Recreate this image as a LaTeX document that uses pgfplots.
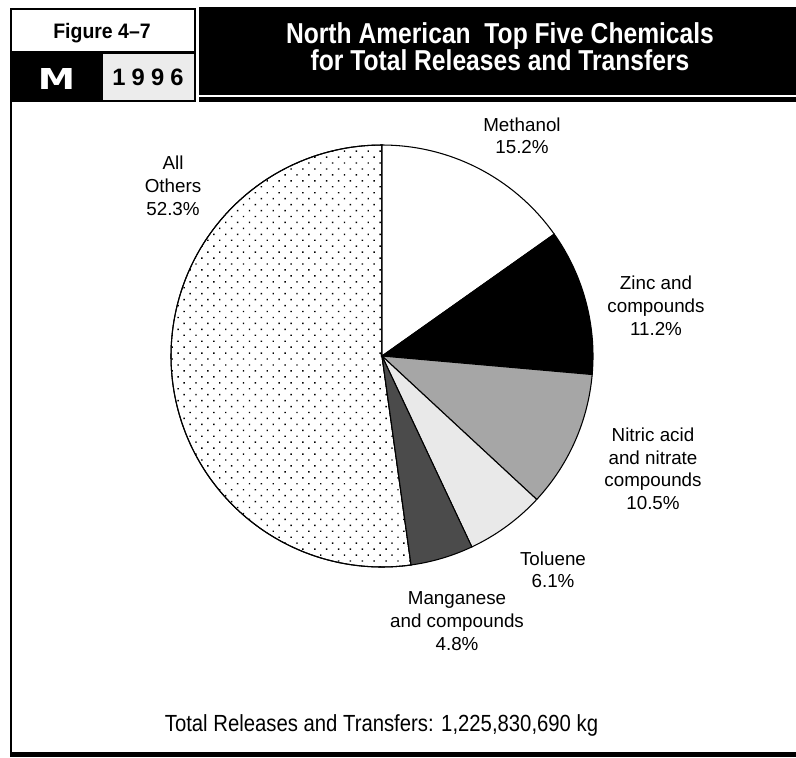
\documentclass[border=0pt]{standalone}
\usepackage{pgfplots}
\pgfplotsset{compat=1.18}
\usepackage{fontspec}
\setmainfont{Liberation Sans}
\newfontfamily\titlefont{Liberation Sans}[FakeStretch=0.855]
\newfontfamily\figfont{Liberation Sans}[FakeStretch=0.93]
\newfontfamily\totalfont{Liberation Sans}[FakeStretch=0.87]
\newfontfamily\widefont{DejaVu Sans}
\usetikzlibrary{patterns.meta}
\definecolor{nitric}{HTML}{A6A6A6}
\definecolor{toluene}{HTML}{E9E9E9}
\definecolor{mangan}{HTML}{4B4B4B}
\definecolor{yearbg}{HTML}{ECECEC}

% shares in percent, clockwise from 12 o'clock
\def\pMethanol{15.2}
\def\pZinc{11.2}
\def\pNitric{10.5}
\def\pToluene{6.1}
\def\pManganese{4.8}
\def\pOthers{52.3}

\pgfmathsetmacro\aA{90}
\pgfmathsetmacro\aB{\aA-3.6*\pMethanol}
\pgfmathsetmacro\aC{\aB-3.6*\pZinc}
\pgfmathsetmacro\aD{\aC-3.6*\pNitric}
\pgfmathsetmacro\aE{\aD-3.6*\pToluene}
\pgfmathsetmacro\aF{\aE-3.6*\pManganese}

\newcommand\lab{\fontsize{14.1}{17}\selectfont}

\begin{document}
\begin{tikzpicture}[x=0.75pt,y=-0.75pt]
\path[use as bounding box] (0,0) rectangle (796,757);
% header blocks
\fill[black] (10,8) rectangle (196,102);
\fill[white] (12,10) rectangle (194,51);
\fill[yearbg] (103,54) rectangle (194,100);
\fill[black] (199,7) rectangle (796,94.5);
\fill[black] (199,96.5) rectangle (796,101.5);
% frame
\fill[black] (10,100) rectangle (12,752);
\fill[black] (10,751.5) rectangle (796,757);
% header text
\node[anchor=base, font=\figfont\bfseries\fontsize{15.7}{18}\selectfont] at (102,38.3) {Figure 4–7};
\node[anchor=base, text=white, font=\widefont\bfseries\fontsize{21.6}{24}\selectfont] at (56.5,89.3) {\scalebox{1.3}[1]{M}};
\node[anchor=base, font=\bfseries\fontsize{17.8}{20}\selectfont] at (148,85.5) {1\hspace{4.6pt}9\hspace{4.6pt}9\hspace{4.6pt}6};
\node[anchor=base, text=white, font=\titlefont\bfseries\fontsize{21.6}{24}\selectfont] at (500,43.3) {North American\ \ Top Five Chemicals};
\node[anchor=base, text=white, font=\titlefont\bfseries\fontsize{21.6}{24}\selectfont] at (500,70.3) {for Total Releases and Transfers};

\coordinate (pc) at (382,356);
\begin{axis}[at={(pc)}, anchor=center, width=316.5pt, height=316.5pt,
  scale only axis, xmin=-1, xmax=1, ymin=-1, ymax=1, hide axis, clip=false]
  \addplot[draw=black, line width=0.8pt, fill=white,
    postaction={pattern={Dots[distance=6.3pt, angle=45, radius=0.75pt]}},
    domain=\aF:-270, samples=150] ({cos(x)},{sin(x)}) -- (axis cs:0,0) -- cycle;
  \addplot[draw=black, line width=0.8pt, fill=white, domain=\aB:\aA, samples=50]
    ({cos(x)},{sin(x)}) -- (axis cs:0,0) -- cycle;
  \addplot[draw=black, line width=0.8pt, fill=black, domain=\aC:\aB, samples=50]
    ({cos(x)},{sin(x)}) -- (axis cs:0,0) -- cycle;
  \addplot[draw=black, line width=0.8pt, fill=nitric, domain=\aD:\aC, samples=50]
    ({cos(x)},{sin(x)}) -- (axis cs:0,0) -- cycle;
  \addplot[draw=black, line width=0.8pt, fill=toluene, domain=\aE:\aD, samples=40]
    ({cos(x)},{sin(x)}) -- (axis cs:0,0) -- cycle;
  \addplot[draw=black, line width=0.8pt, fill=mangan, domain=\aF:\aE, samples=30]
    ({cos(x)},{sin(x)}) -- (axis cs:0,0) -- cycle;
\end{axis}

% slice labels
\begin{scope}[every node/.style={anchor=base, font=\lab, inner sep=0pt}]
\node at (522,131.5) {Methanol};
\node at (522,153.5) {15.2\%};
\node at (173,169.5) {All};
\node at (173,192.5) {Others};
\node at (173,215) {52.3\%};
\node at (656,289) {Zinc and};
\node at (656,312) {compounds};
\node at (656,335) {11.2\%};
\node at (653,441.7) {Nitric acid};
\node at (653,464) {and nitrate};
\node at (653,486.5) {compounds};
\node at (653,509) {10.5\%};
\node at (553,565.5) {Toluene};
\node at (553,587) {6.1\%};
\node at (457,604) {Manganese};
\node at (457,627) {and compounds};
\node at (457,650) {4.8\%};
\node[font=\totalfont\fontsize{17.5}{20}\selectfont] at (381.5,731.7) {Total Releases and Transfers: 1,225,830,690 kg};
\end{scope}
\end{tikzpicture}
\end{document}
